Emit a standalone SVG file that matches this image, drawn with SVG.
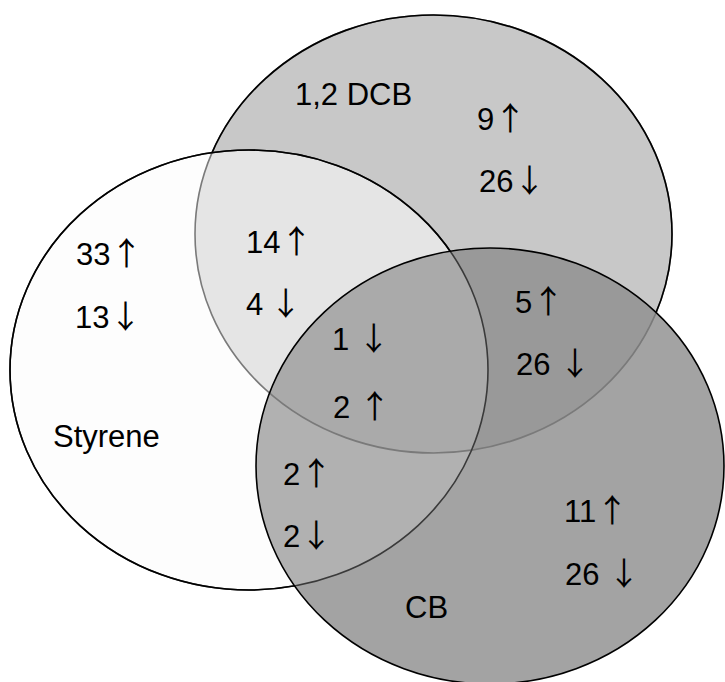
<svg xmlns="http://www.w3.org/2000/svg" width="725" height="682" viewBox="0 0 725 682">
  <style>
    .lbl { font-family: "Liberation Sans", Arial, sans-serif; font-size: 31px; fill: #000; }
    .arr { font-family: "Noto Sans CJK JP", "Liberation Sans", sans-serif; font-size: 32px; }
    .edge { fill: none; stroke-width: 1.6; }
  </style>
  <defs>
    <ellipse id="eS" cx="249" cy="370" rx="239" ry="220"/>
    <ellipse id="eD" cx="433.5" cy="234" rx="238.5" ry="219"/>
    <ellipse id="eC" cx="490" cy="466" rx="234" ry="218"/>
    <clipPath id="inS"><use href="#eS"/></clipPath>
    <clipPath id="inD"><use href="#eD"/></clipPath>
    <mask id="outSC" maskUnits="userSpaceOnUse" x="0" y="0" width="725" height="682">
      <rect width="725" height="682" fill="#fff"/>
      <use href="#eS" fill="#000"/>
      <use href="#eC" fill="#000"/>
    </mask>
    <mask id="outC" maskUnits="userSpaceOnUse" x="0" y="0" width="725" height="682">
      <rect width="725" height="682" fill="#fff"/>
      <use href="#eC" fill="#000"/>
    </mask>
  </defs>

  <rect width="725" height="682" fill="#fff"/>

  <!-- set areas -->
  <g id="set-dcb"><use href="#eD" fill="#c8c8c8"/></g>
  <g id="set-styrene"><use href="#eS" fill="#fdfdfd"/></g>
  <g id="set-cb"><use href="#eC" fill="#a3a3a3"/></g>

  <!-- pairwise and triple overlaps -->
  <g id="overlaps">
    <g clip-path="url(#inS)">
      <use href="#eD" fill="#e5e5e5"/>
      <use href="#eC" fill="#b1b1b1"/>
    </g>
    <g clip-path="url(#inD)">
      <use href="#eC" fill="#999999"/>
    </g>
    <g clip-path="url(#inS)">
      <g clip-path="url(#inD)">
        <use href="#eC" fill="#aaaaaa"/>
      </g>
    </g>
  </g>

  <!-- outlines -->
  <g id="outlines">
    <use href="#eD" class="edge" stroke="#7a7a7a"/>
    <use href="#eD" class="edge" stroke="#000" mask="url(#outSC)"/>
    <use href="#eS" class="edge" stroke="#3a3a3a"/>
    <use href="#eS" class="edge" stroke="#000" mask="url(#outC)"/>
    <use href="#eC" class="edge" stroke="#000"/>
  </g>

  <!-- labels -->
  <g id="label-styrene">
    <text class="lbl" x="53" y="447">Styrene</text>
    <text class="lbl" x="76" y="265">33<tspan class="arr">↑</tspan></text>
    <text class="lbl" x="75" y="328">13<tspan class="arr">↓</tspan></text>
  </g>
  <g id="label-dcb">
    <text class="lbl" x="295" y="105">1,2 DCB</text>
    <text class="lbl" x="477" y="130">9<tspan class="arr">↑</tspan></text>
    <text class="lbl" x="479" y="192">26<tspan class="arr">↓</tspan></text>
  </g>
  <g id="label-styrene-dcb">
    <text class="lbl" x="246" y="253">14<tspan class="arr">↑</tspan></text>
    <text class="lbl" x="246" y="315">4 <tspan class="arr" dx="-2">↓</tspan></text>
  </g>
  <g id="label-all">
    <text class="lbl" x="332" y="350">1 <tspan class="arr">↓</tspan></text>
    <text class="lbl" x="333" y="418">2 <tspan class="arr">↑</tspan></text>
  </g>
  <g id="label-dcb-cb">
    <text class="lbl" x="515" y="313">5<tspan class="arr">↑</tspan></text>
    <text class="lbl" x="516" y="375">26 <tspan class="arr">↓</tspan></text>
  </g>
  <g id="label-styrene-cb">
    <text class="lbl" x="283" y="485">2<tspan class="arr">↑</tspan></text>
    <text class="lbl" x="283" y="547">2<tspan class="arr">↓</tspan></text>
  </g>
  <g id="label-cb">
    <text class="lbl" x="405" y="618">CB</text>
    <text class="lbl" x="564" y="522">11<tspan class="arr">↑</tspan></text>
    <text class="lbl" x="565" y="585">26 <tspan class="arr">↓</tspan></text>
  </g>
</svg>
